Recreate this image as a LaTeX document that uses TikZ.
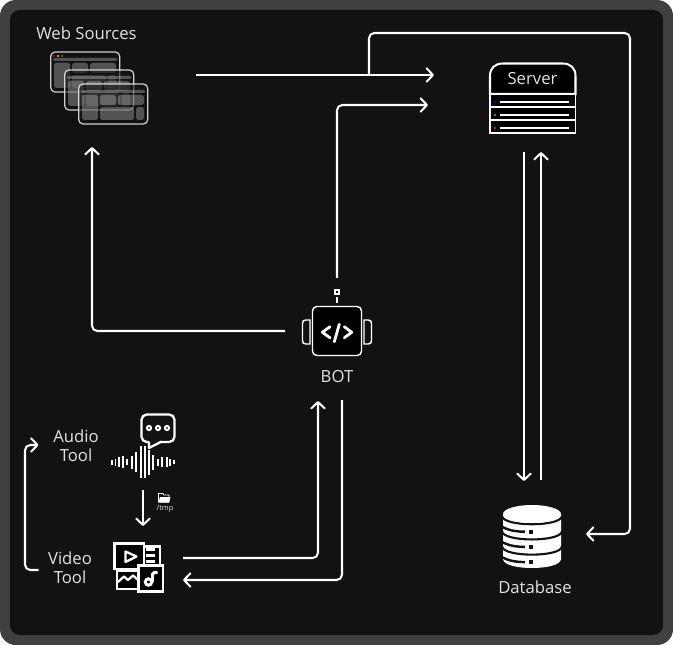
\documentclass[tikz,border=0pt]{standalone}
\usepackage{fontspec}
\setmainfont{Open Sans}
\usetikzlibrary{arrows.meta}
\definecolor{framegray}{RGB}{64,64,64}
\definecolor{panelblack}{RGB}{18,18,18}
\definecolor{labelgray}{RGB}{226,226,226}
\tikzstyle{flow} = [-{Straight Barb[length=3.6pt, width=7.6pt, round]}, line width=1.15pt, white, rounded corners=3pt]
\tikzstyle{label} = [text=labelgray, font=\fontsize{9.5}{10.6}\selectfont, align=center, inner sep=0pt]
\tikzstyle{iconline} = [line width=1.15pt, white]
\tikzstyle{heavyline} = [line width=1.6pt, white]
\tikzstyle{winedge} = [line width=0.7pt, white, opacity=0.8, rounded corners=2.5pt]
\tikzstyle{winpanel} = [white, opacity=0.28, rounded corners=1pt]
\tikzset{
    pics/browser/.style={code={
        \fill[panelblack, opacity=0.6, rounded corners=2.5pt] (0,0) rectangle (69,40);
        \fill[winpanel] (2,6) rectangle (67,9);
        \fill[winpanel] (3.3,10.7) rectangle (19.3,36);
        \fill[winpanel] (21.3,11) rectangle (37.3,21);
        \fill[winpanel] (39.3,11) rectangle (65.3,21);
        \fill[winpanel] (21.3,23) rectangle (55.3,36);
        \fill[winpanel] (57.3,23) rectangle (65.3,36);
        \draw[winedge] (0,0) rectangle (69,40);
    }},
}
\begin{document}
\begin{tikzpicture}[x=0.02cm, y=-0.02cm]
    \useasboundingbox (0,0) rectangle (673,645);
    \fill[framegray, rounded corners=9pt] (0,0) rectangle (673,645);
    \fill[panelblack, rounded corners=5.5pt] (10,10) rectangle (663,635);

    % web sources
    \node[label] (webLabel) at (86.5,33.5) {Web Sources};
    \foreach \wx/\wy in {50.7/52, 64.7/70, 78.7/84}
        \pic at (\wx,\wy) {browser};
    \fill[red!85!black] (54,56) circle (1.1);
    \fill[yellow!85!black] (58,56) circle (1.1);
    \fill[green!70!black] (62,56) circle (1.1);

    % server
    \draw[iconline, fill=black] (490,94) -- (490,76) .. controls (490,68) and (495,63.5) .. (503,63.5) -- (562.5,63.5) .. controls (570.5,63.5) and (575.5,68) .. (575.5,76) -- (575.5,94) -- cycle;
    \foreach \ry/\dotcol in {94/blue, 107/green!70!black, 120/red} {
        \draw[iconline, fill=black, line width=0.9pt] (490,\ry) rectangle (575.5,\ry+13);
        \fill[\dotcol] (494,\ry+7) rectangle (496,\ry+9);
        \draw[iconline] (500,\ry+8) -- (569,\ry+8);
    }
    \node[label] (server) at (532.5,79) {Server};

    % bot
    \draw[iconline, line width=0.8pt] (310,320) -- (306,320) .. controls (303.5,320) and (302.5,321) .. (302.5,323.5) -- (302.5,340.5) .. controls (302.5,343) and (303.5,344) .. (306,344) -- (310,344) -- cycle;
    \draw[iconline, line width=0.8pt] (364,320) -- (368,320) .. controls (370.5,320) and (371.5,321) .. (371.5,323.5) -- (371.5,340.5) .. controls (371.5,343) and (370.5,344) .. (368,344) -- (364,344) -- cycle;
    \draw[iconline, fill=black, line width=0.8pt, rounded corners=2.5pt] (312.5,306.5) rectangle (361.5,355.5);
    \draw[heavyline, line cap=round, line join=round] (330,326.7) -- (322.3,332.3) -- (330,337.8);
    \draw[heavyline, line cap=round, line join=round] (344.3,326.7) -- (351.7,332.3) -- (344.3,337.8);
    \draw[heavyline, line cap=round] (339.3,324.3) -- (334.3,341.7);
    \draw[iconline, line width=0.9pt] (334.8,289.8) rectangle (339.2,294.2);
    \draw[iconline] (337,297) -- (337,303.5);
    \node[label] (bot) at (337,376.5) {BOT};

    % audio tool
    \node[label] (audio) at (76,446) {Audio\\Tool};
    \draw[iconline, line width=1.3pt, rounded corners=3pt] (149,442) -- (141.5,442) -- (141.5,414.5) -- (174.5,414.5) -- (174.5,442) -- (161,442);
    \draw[iconline, line width=1.3pt, line join=round] (149,441.6) -- (149,448) -- (161.5,441.6);
    \foreach \dx in {149,158,167}
        \draw[iconline, line width=1.1pt] (\dx,428) circle (2.1);
    \foreach \bx/\bh in {112/5, 115.5/7, 119/10, 123.3/12, 127.3/6, 132/13, 136.3/20, 140.7/32, 144.7/32, 149/25, 153/15, 158/7, 162.3/10, 166.7/10, 170.3/7, 173.7/4}
        \fill[white] (\bx-0.9,462-\bh/2) rectangle (\bx+0.9,462+\bh/2);

    % temp folder
    \draw[white, line width=0.4pt, fill=panelblack] (158.5,502) -- (158.5,493.5) -- (163,493.5) -- (164,495) -- (169,495) -- (169,502) -- cycle;
    \fill[white] (158.5,502.5) -- (160,497) -- (170.5,497) -- (169,502.5) -- cycle;
    \node[label, font=\fontsize{4.2}{5}\selectfont] (tmp) at (165,508.5) {/tmp};

    % video tool
    \node[label] (video) at (70,568) {Video\\Tool};
    \draw[heavyline, fill=black, line width=1.4pt] (140,546.5) rectangle (160,565);
    \foreach \ly in {549.5,555.5,561.5}
        \draw[heavyline, line width=1.3pt] (146,\ly) -- (155,\ly);
    \draw[heavyline, fill=black] (114.5,543.5) rectangle (144,569);
    \draw[heavyline, line join=round, line width=1.3pt] (125.5,551.5) -- (125.5,562) -- (136.5,556.5) -- cycle;
    \draw[heavyline, fill=black, line width=1.4pt] (117,571) rectangle (139,589);
    \draw[heavyline, line join=round, line width=1.3pt] (118,582) -- (124,576.5) -- (128,580) -- (133,575.5) -- (138,580);
    \draw[heavyline, fill=black] (138.5,565.5) rectangle (163,591.5);
    \draw[heavyline, line width=1.7pt] (148.5,582) circle (3.2);
    \draw[heavyline, line width=1.7pt, rounded corners=1pt] (152.5,582) -- (152.5,572.5) -- (157.5,572.5);

    % database
    \fill[white] (503,514) -- (503,559) .. controls (503,571) and (561,571) .. (561,559) -- (561,514) -- cycle;
    \foreach \sy/\gy in {0/515, 15.2/530.2, 30.4/545.4} {
        \draw[panelblack, line width=1.2pt] (502,\gy+1) .. controls (503,\gy+12) and (561,\gy+12) .. (562,\gy+1);
        \draw[panelblack, line width=1.4pt] (502.5,\sy+527) .. controls (510,\sy+531) and (518,\sy+531.7) .. (525,\sy+531.7);
        \fill[panelblack] (529,\sy+530) rectangle (532.5,\sy+533.5);
    }
    \fill[white] (532,514) ellipse (29 and 9);
    \node[label] (database) at (535,587.5) {Database};

    % connector ends
    \coordinate (webOut) at (196,75);
    \coordinate (serverInA) at (434,75);
    \coordinate (serverInB) at (428,105);
    \coordinate (branch) at (369,75);
    \coordinate (databaseIn) at (586,534);
    \coordinate (botTop) at (337,278);
    \coordinate (botLeft) at (285,331);
    \coordinate (webIn) at (92,147);
    \coordinate (serverOut) at (524,152);
    \coordinate (databaseOut) at (524,481);
    \coordinate (databaseUp) at (541,480);
    \coordinate (serverBack) at (541,152);
    \coordinate (videoOut) at (183,558);
    \coordinate (botIn) at (318,401);
    \coordinate (botOut) at (342,400);
    \coordinate (videoIn) at (183,580);
    \coordinate (audioOut) at (143,490);
    \coordinate (videoTop) at (143,526);
    \coordinate (videoLeft) at (38.5,570);
    \coordinate (audioLeft) at (38.5,445);

    % connectors
    \draw[flow] (webOut) -- (serverInA);
    \draw[flow] (branch) -- (369,33) -- (630,33) -- (630,534) -- (databaseIn);
    \draw[flow] (botTop) -- (337,105) -- (serverInB);
    \draw[flow] (botLeft) -- (92,331) -- (webIn);
    \draw[flow] (serverOut) -- (databaseOut);
    \draw[flow] (databaseUp) -- (serverBack);
    \draw[flow] (videoOut) -- (318,558) -- (botIn);
    \draw[flow] (botOut) -- (342,580) -- (videoIn);
    \draw[flow] (audioOut) -- (videoTop);
    \draw[flow] (videoLeft) -- (25,570) -- (25,445) -- (audioLeft);
\end{tikzpicture}
\end{document}
